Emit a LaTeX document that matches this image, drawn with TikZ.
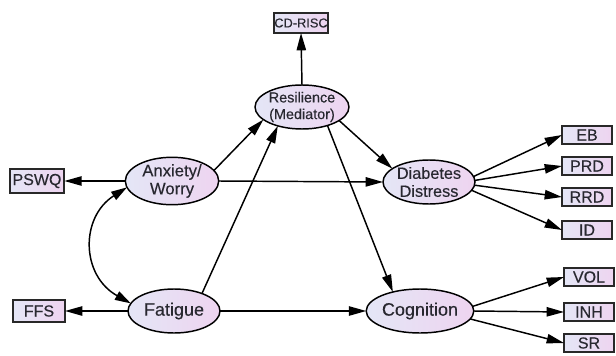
\documentclass[tikz,border=0pt]{standalone}
\usepackage{fontspec}
\setmainfont{Liberation Sans}[FakeBold=0.3]
\usetikzlibrary{arrows.meta,shapes.geometric}
\definecolor{lavL}{RGB}{228,230,246}
\definecolor{lavR}{RGB}{238,212,240}
\definecolor{txt}{RGB}{40,40,48}
\definecolor{bordr}{RGB}{40,40,40}
\tikzset{
  latent/.style={ellipse, draw=black, line width=1.1pt, left color=lavL, right color=lavR,
    inner sep=0pt, outer sep=0pt, minimum width=69pt, minimum height=33pt, align=center,
    text=txt, font=\fontsize{12.5}{13.5}\selectfont},
  obs/.style={rectangle, draw=bordr, line width=1.7pt, left color=lavL, right color=lavR,
    inner sep=0pt, outer sep=0pt, minimum width=37.5pt, minimum height=14pt,
    text=txt, font=\fontsize{12}{13}\selectfont},
  path/.style={line width=1.1pt, draw=black, -{Triangle[length=13pt,width=7pt]}},
  bipath/.style={line width=1.1pt, draw=black, {Triangle[length=12pt,width=7pt]}-{Triangle[length=12pt,width=7pt]}}
}
\begin{document}
\begin{tikzpicture}[x=0.75pt,y=0.75pt]
\useasboundingbox (0,0) rectangle (616,-356);
% latent variables
\node[latent, minimum width=67.5pt, font=\fontsize{10.8}{12.5}\selectfont] (res) at (302,-107) {Resilience\\(Mediator)};
\node[latent, minimum width=70pt] (anx) at (172,-181) {Anxiety/\\Worry};
\node[latent, font=\fontsize{13.5}{15}\selectfont] (fat) at (174,-311) {Fatigue};
\node[latent, font=\fontsize{12.2}{13.5}\selectfont] (dd) at (429,-182) {Diabetes\\Distress};
\node[latent, font=\fontsize{13.5}{15}\selectfont] (cog) at (420,-311) {Cognition};
% observed
\node[obs, minimum width=41pt, minimum height=15pt, font=\fontsize{9.6}{11}\selectfont] (cd) at (301,-23) {CD-RISC};
\node[obs, minimum width=41pt, minimum height=18pt] (pswq) at (37,-181) {PSWQ};
\node[obs, minimum width=39pt, minimum height=17pt] (ffs) at (39,-311) {FFS};
\node[obs] (eb) at (587,-135) {EB};
\node[obs] (prd) at (587,-166) {PRD};
\node[obs] (rrd) at (587,-197) {RRD};
\node[obs] (id) at (587,-230) {ID};
\node[obs] (vol) at (589,-277) {VOL};
\node[obs] (inh) at (589,-312) {INH};
\node[obs] (sr) at (589,-343) {SR};
% connectors
\draw[path] (res.north) -- (cd.south);
\draw[path] (anx.west) -- (pswq.east);
\draw[path] (fat.west) -- (ffs.east);
\draw[bipath] (anx.188) .. controls +(-47,-30) and +(-50,28) .. (fat.170);
\draw[path] (anx.14) -- (res.198);
\draw[path] (fat.32) -- (res.218);
\draw[path] (anx.east) -- (dd.west);
\draw[path] (res.340) -- (dd.160);
\draw[path] (res.324) -- (cog.145);
\draw[path] (fat.east) -- (cog.west);
\draw[path] (dd.7) -- (eb.west);
\draw[path] (dd.2) -- (prd.west);
\draw[path] (dd.-4) -- (rrd.west);
\draw[path] (dd.-11) -- (id.west);
\draw[path] (cog.5) -- (vol.west);
\draw[path] (cog.0) -- (inh.west);
\draw[path] (cog.-9) -- (sr.west);
\end{tikzpicture}
\end{document}
